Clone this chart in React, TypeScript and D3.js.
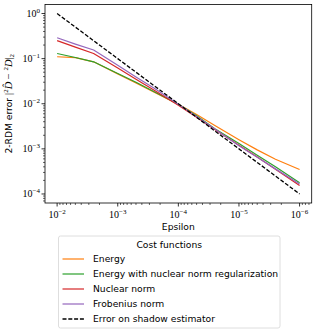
import * as d3 from "d3";

// epsilon values (x) and the 2-RDM error of each cost function (y)
const epsilons = [1e-2, 5e-3, 2.5e-3, 1e-3, 5e-4, 2.5e-4, 1e-4, 5e-5, 2.5e-5, 1e-5, 5e-6, 2.5e-6, 1e-6];
const energy = [0.11, 0.105, 0.085, 0.046, 0.029, 0.018, 0.0097, 5.8e-3, 3.3e-3, 1.6e-3, 9.5e-4, 5.9e-4, 3.5e-4];
const energyNuclear = [0.13, 0.106, 0.085, 0.047, 0.03, 0.0185, 0.0098, 5.4e-3, 2.8e-3, 1.32e-3, 7.2e-4, 4.0e-4, 1.78e-4];
const nuclear = [0.25, 0.18, 0.13, 0.062, 0.035, 0.02, 0.0093, 5.0e-3, 2.7e-3, 1.2e-3, 6.6e-4, 3.55e-4, 1.55e-4];
const frobenius = [0.29, 0.21, 0.155, 0.071, 0.039, 0.022, 0.0098, 5.2e-3, 2.75e-3, 1.17e-3, 6.5e-4, 3.6e-4, 1.66e-4];
const shadow = [1, 0.5, 0.25, 0.1, 0.05, 0.025, 0.01, 5e-3, 2.5e-3, 1e-3, 5e-4, 2.5e-4, 1e-4];

const seriesNames = [
  "Energy",
  "Energy with nuclear norm regularization",
  "Nuclear norm",
  "Frobenius norm",
  "Error on shadow estimator",
];
const seriesValues = [energy, energyNuclear, nuclear, frobenius, shadow];
const seriesColors = ["#ff7f0e", "#2ca02c", "#d62728", "#9467bd", "#000000"];

const xTickExps = [-2, -3, -4, -5, -6];
const yTickExps = [0, -1, -2, -3, -4];

const W = 317;
const H = 334;
const margin = { left: 45, right: 5.3, top: 4.5, bottom: 131 };
const sans = "DejaVu Sans, sans-serif";
const serif = "Liberation Serif, DejaVu Serif, serif";
const fs = 9.2;

const Pow = ({ exp, x, y, anchor }: { exp: number; x: number; y: number; anchor: string }) => (
  <text x={x} y={y} textAnchor={anchor} fontFamily={serif} fontSize={10} fill="#000">
    10
    <tspan dy={-4.5} fontSize={7}>
      {exp === 0 ? "0" : "\u2212" + Math.abs(exp)}
    </tspan>
  </text>
);

export default function App() {
  const x0 = margin.left;
  const x1 = W - margin.right;
  const y0 = margin.top;
  const y1 = H - margin.bottom;

  const x = d3.scaleLog().domain([Math.pow(10, -1.8), Math.pow(10, -6.2)]).range([x0, x1]);
  const y = d3.scaleLog().domain([Math.pow(10, 0.2), Math.pow(10, -4.2)]).range([y0, y1]);

  const line = d3
    .line<number>()
    .x((_, i) => x(epsilons[i]))
    .y((d) => y(d));

  // minor ticks
  const minorX: number[] = [];
  for (let e = -7; e <= -1; e++) {
    for (let k = 2; k <= 9; k++) {
      const v = k * Math.pow(10, e);
      const px = x(v);
      if (px >= x0 - 0.1 && px <= x1 + 0.1) minorX.push(px);
    }
  }
  const minorY: number[] = [];
  for (let e = -5; e <= 0; e++) {
    for (let k = 2; k <= 9; k++) {
      const v = k * Math.pow(10, e);
      const py = y(v);
      if (py >= y0 - 0.1 && py <= y1 + 0.1) minorY.push(py);
    }
  }

  // legend
  const lg = { x: 58.5, y: 236, w: 221.5, h: 92 };
  const rowH = 15;

  return (
    <svg width={W} height={H} style={{ position: "absolute", left: 0, top: 0, background: "#fff" }}>
      <rect x={0} y={0} width={W} height={H} fill="#fff" />

      {seriesValues.map((vals, i) => (
        <path
          key={seriesNames[i]}
          d={line(vals) || ""}
          fill="none"
          stroke={seriesColors[i]}
          strokeWidth={i === 4 ? 1.3 : 1.2}
          strokeDasharray={i === 4 ? "4,1.8" : undefined}
          strokeLinejoin="round"
        />
      ))}

      {/* frame */}
      <rect x={x0} y={y0} width={x1 - x0} height={y1 - y0} fill="none" stroke="#000" strokeWidth={0.8} />

      {/* x ticks */}
      {xTickExps.map((e) => {
        const px = x(Math.pow(10, e));
        return (
          <g key={"xt" + e}>
            <line x1={px} x2={px} y1={y1} y2={y1 + 3.5} stroke="#000" strokeWidth={0.8} />
            <Pow exp={e} x={px} y={y1 + 15} anchor="middle" />
          </g>
        );
      })}
      {minorX.map((px, i) => (
        <line key={"xm" + i} x1={px} x2={px} y1={y1} y2={y1 + 2} stroke="#000" strokeWidth={0.6} />
      ))}

      {/* y ticks */}
      {yTickExps.map((e) => {
        const py = y(Math.pow(10, e));
        return (
          <g key={"yt" + e}>
            <line x1={x0 - 3.5} x2={x0} y1={py} y2={py} stroke="#000" strokeWidth={0.8} />
            <Pow exp={e} x={x0 - 5} y={py + 3.5} anchor="end" />
          </g>
        );
      })}
      {minorY.map((py, i) => (
        <line key={"ym" + i} x1={x0 - 2} x2={x0} y1={py} y2={py} stroke="#000" strokeWidth={0.6} />
      ))}

      {/* axis labels */}
      <text x={(x0 + x1) / 2} y={y1 + 27} textAnchor="middle" fontFamily={sans} fontSize={fs}>
        Epsilon
      </text>
      <text
        transform={`translate(12,${(y0 + y1) / 2}) rotate(-90)`}
        textAnchor="middle"
        fontFamily={sans}
        fontSize={fs}
      >
        2-RDM error{" "}
        <tspan fontFamily={serif} fontSize={10.5}>
          |<tspan dy={-4} fontSize={7}>2</tspan>
          <tspan dy={4} fontStyle="italic">D̂</tspan> − <tspan dy={-4} fontSize={7}>2</tspan>
          <tspan dy={4} fontStyle="italic">D</tspan>|<tspan dy={2} fontSize={7}>2</tspan>
        </tspan>
      </text>

      {/* legend */}
      <rect x={lg.x} y={lg.y} width={lg.w} height={lg.h} rx={2} fill="#fff" stroke="#d6d6d6" strokeWidth={0.8} />
      <text x={lg.x + lg.w / 2} y={lg.y + 11.5} textAnchor="middle" fontFamily={sans} fontSize={fs}>
        Cost functions
      </text>
      {seriesNames.map((name, i) => {
        const ry = lg.y + 23 + i * rowH;
        return (
          <g key={"lg" + i}>
            <line
              x1={lg.x + 4}
              x2={lg.x + 25.5}
              y1={ry}
              y2={ry}
              stroke={seriesColors[i]}
              strokeWidth={i === 4 ? 1.3 : 1.2}
              strokeDasharray={i === 4 ? "4,1.8" : undefined}
            />
            <text x={lg.x + 34.5} y={ry + 3.3} fontFamily={sans} fontSize={fs}>
              {name}
            </text>
          </g>
        );
      })}
    </svg>
  );
}
